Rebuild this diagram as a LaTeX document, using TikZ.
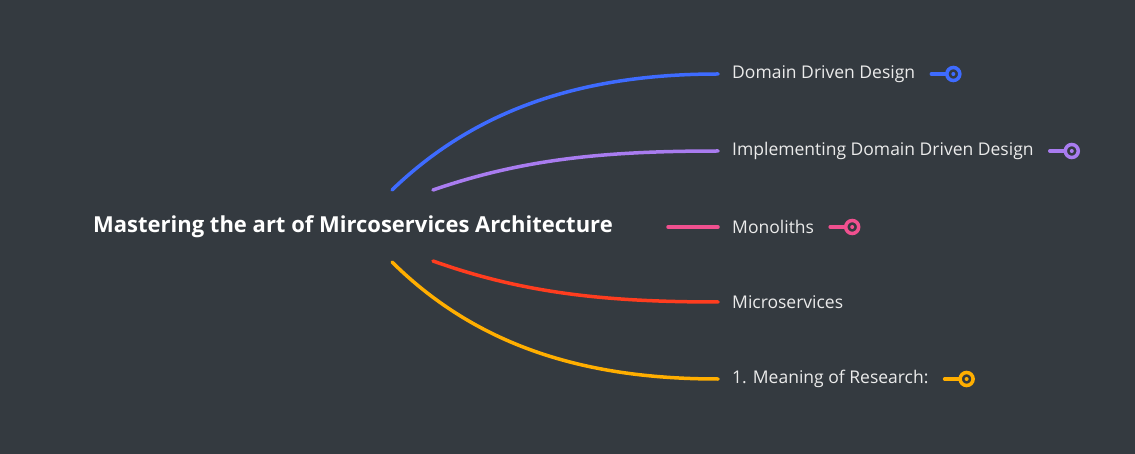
\documentclass[tikz,border=0pt]{standalone}
\usepackage{fontspec}
\setmainfont{Open Sans}
\begin{document}
\begin{tikzpicture}[x=1pt,y=-1pt,
  br/.style={line width=3.5pt,line cap=round},
  lab/.style={anchor=west,inner sep=0pt,text=white!92!black,font=\fontsize{17.5}{20}\selectfont},
  mk/.style={line width=3.5pt,line cap=round}]
\definecolor{bg}{HTML}{343A40}
\definecolor{cb}{HTML}{3E6BFF}
\definecolor{cp}{HTML}{A97CF0}
\definecolor{ck}{HTML}{F0508F}
\definecolor{cr}{HTML}{FF3D1F}
\definecolor{co}{HTML}{FFAE00}
\fill[bg] (0,0) rectangle (1135,454);
\useasboundingbox (0,0) rectangle (1135,454);
\node[inner sep=0pt,text=white,font=\bfseries\fontsize{22}{26}\selectfont] (root) at (353,227) {Mastering the art of Mircoservices Architecture};
\coordinate (s1) at (392,190); \coordinate (s2) at (433,190);
\coordinate (s3) at (668,227);
\coordinate (s4) at (433,261); \coordinate (s5) at (392,262);
\coordinate (e1) at (718,74); \coordinate (e2) at (718,151);
\coordinate (e3) at (718,227); \coordinate (e4) at (718,302);
\coordinate (e5) at (718,379);
\node[lab] (n1) at (732,74) {Domain Driven Design};
\node[lab] (n2) at (732,151) {Implementing Domain Driven Design};
\node[lab] (n3) at (732,227) {Monoliths};
\node[lab] (n4) at (732,302) {Microservices};
\node[lab] (n5) at (732,379) {1. Meaning of Research:};
\draw[br,cb] (s1) .. controls (480,105) and (590,74) .. (e1);
\draw[br,cp] (s2) .. controls (520,160) and (600,151) .. (e2);
\draw[br,ck] (s3) -- (e3);
\draw[br,cr] (s4) .. controls (520,292) and (600,302) .. (e4);
\draw[br,co] (s5) .. controls (480,349) and (590,379) .. (e5);
\foreach \n/\c in {n1/cb,n2/cp,n3/ck,n5/co}{
  \coordinate (a\n) at ([xshift=16pt]\n.east);
  \draw[mk,\c] (a\n) -- ++(15,0);
  \draw[\c,line width=3.5pt,fill=bg] ([xshift=22pt]a\n) circle (6.5);
  \fill[\c] ([xshift=22pt]a\n) circle (2);
}
\end{tikzpicture}
\end{document}
